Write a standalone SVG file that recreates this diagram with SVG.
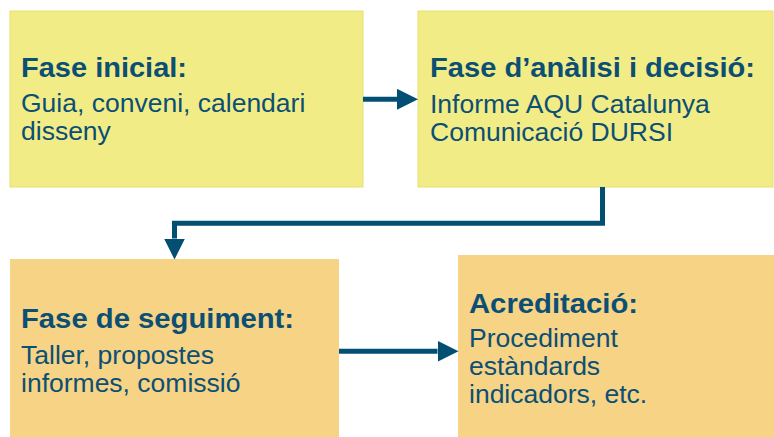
<svg xmlns="http://www.w3.org/2000/svg" width="774" height="437" viewBox="0 0 774 437">
<style>
.y{fill:#f2ec87;stroke:#e6df70;stroke-width:1}
.o{fill:#f6d385}
text{font-family:"Liberation Sans",Arial,sans-serif;fill:#0c4f74}
.t{font-weight:bold;font-size:28.5px}
.b{font-size:26.5px}
.c{stroke:#034f74;stroke-width:5;fill:none}
</style>
<defs>
<marker id="ah" viewBox="0 0 21 21" refX="0" refY="10.5" markerWidth="21" markerHeight="21" markerUnits="userSpaceOnUse" orient="auto">
<path d="M0,0 L21,10.5 L0,21 Z" fill="#034f74"/>
</marker>
</defs>
<rect width="774" height="437" fill="#ffffff"/>
<g id="n1">
<rect class="y" x="10" y="11" width="353" height="176"/>
<text class="t" x="21" y="77" textLength="166" lengthAdjust="spacingAndGlyphs">Fase inicial:</text>
<text class="b" x="21" y="112">Guia, conveni, calendari</text>
<text class="b" x="21" y="140">disseny</text>
</g>
<g id="n2">
<rect class="y" x="418" y="11" width="355" height="176"/>
<text class="t" x="430" y="77" textLength="325" lengthAdjust="spacingAndGlyphs">Fase d’anàlisi i decisió:</text>
<text class="b" x="430" y="113">Informe AQU Catalunya</text>
<text class="b" x="430" y="141">Comunicació DURSI</text>
</g>
<g id="n3">
<rect class="o" x="10" y="259" width="329" height="178"/>
<text class="t" x="21" y="328" textLength="273" lengthAdjust="spacingAndGlyphs">Fase de seguiment:</text>
<text class="b" x="21" y="364">Taller, propostes</text>
<text class="b" x="21" y="392">informes, comissió</text>
</g>
<g id="n4">
<rect class="o" x="458" y="255" width="316" height="182"/>
<text class="t" x="469" y="313" textLength="169" lengthAdjust="spacingAndGlyphs">Acreditació:</text>
<text class="b" x="469" y="347">Procediment</text>
<text class="b" x="469" y="375">estàndards</text>
<text class="b" x="469" y="403">indicadors, etc.</text>
</g>
<g id="connectors">
<path class="c" d="M363,99.3 H397" marker-end="url(#ah)"/>
<path class="c" d="M602.5,187 V223.3 H174.5 V238.5" marker-end="url(#ah)"/>
<path class="c" d="M339,351.3 H437.5" marker-end="url(#ah)"/>
</g>
</svg>
